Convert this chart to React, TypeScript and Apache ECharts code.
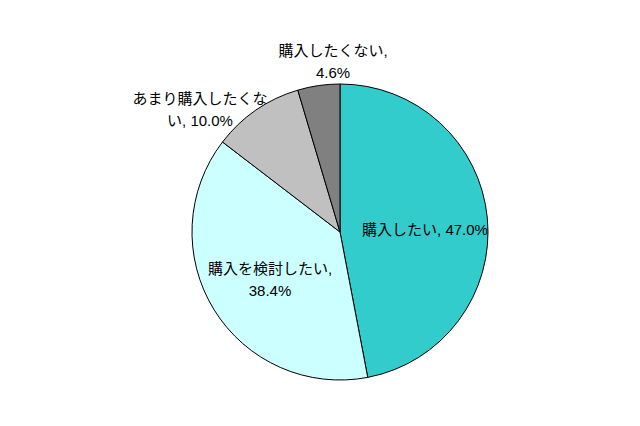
import React, { useEffect, useRef } from 'react';
import * as echarts from 'echarts';

const categories = ['購入したい', '購入を検討したい', 'あまり購入したくない', '購入したくない'];
const values = [47.0, 38.4, 10.0, 4.6];
const colors = ['#33CCCC', '#CCFFFF', '#C0C0C0', '#808080'];
// how each label wraps in the original
const labelTexts = [
  '購入したい, 47.0%',
  '購入を検討したい,\n38.4%',
  'あまり購入したくな\nい, 10.0%',
  '購入したくない,\n4.6%',
];
const labelPos = [
  [425, 229],
  [270, 279],
  [200, 109],
  [333, 61],
];

const App: React.FC = () => {
  const chartRef = useRef<HTMLDivElement>(null);

  useEffect(() => {
    document.body.style.margin = '0';
    const chart = echarts.init(chartRef.current!, null, { renderer: 'svg' });

    chart.setOption({
      animation: false,
      backgroundColor: '#ffffff',
      series: [
        {
          type: 'pie',
          center: [340, 232],
          radius: 148,
          startAngle: 90,
          clockwise: true,
          avoidLabelOverlap: false,
          itemStyle: { borderColor: '#000', borderWidth: 1 },
          label: {
            show: true,
            color: '#000',
            fontSize: 15,
            lineHeight: 22,
            fontFamily: '"Liberation Sans", "Noto Sans CJK JP", sans-serif',
            formatter: (p: any) => labelTexts[p.dataIndex],
          },
          labelLine: { show: false },
          labelLayout: (p: any) => ({
            x: labelPos[p.dataIndex][0],
            y: labelPos[p.dataIndex][1],
            align: 'center',
            verticalAlign: 'middle',
          }),
          emphasis: { disabled: true },
          data: categories.map((name, i) => ({
            name,
            value: values[i],
            itemStyle: { color: colors[i] },
          })),
        },
      ],
    });

    return () => {
      chart.dispose();
    };
  }, []);

  return <div ref={chartRef} style={{ width: 640, height: 426 }} />;
};

export default App;
